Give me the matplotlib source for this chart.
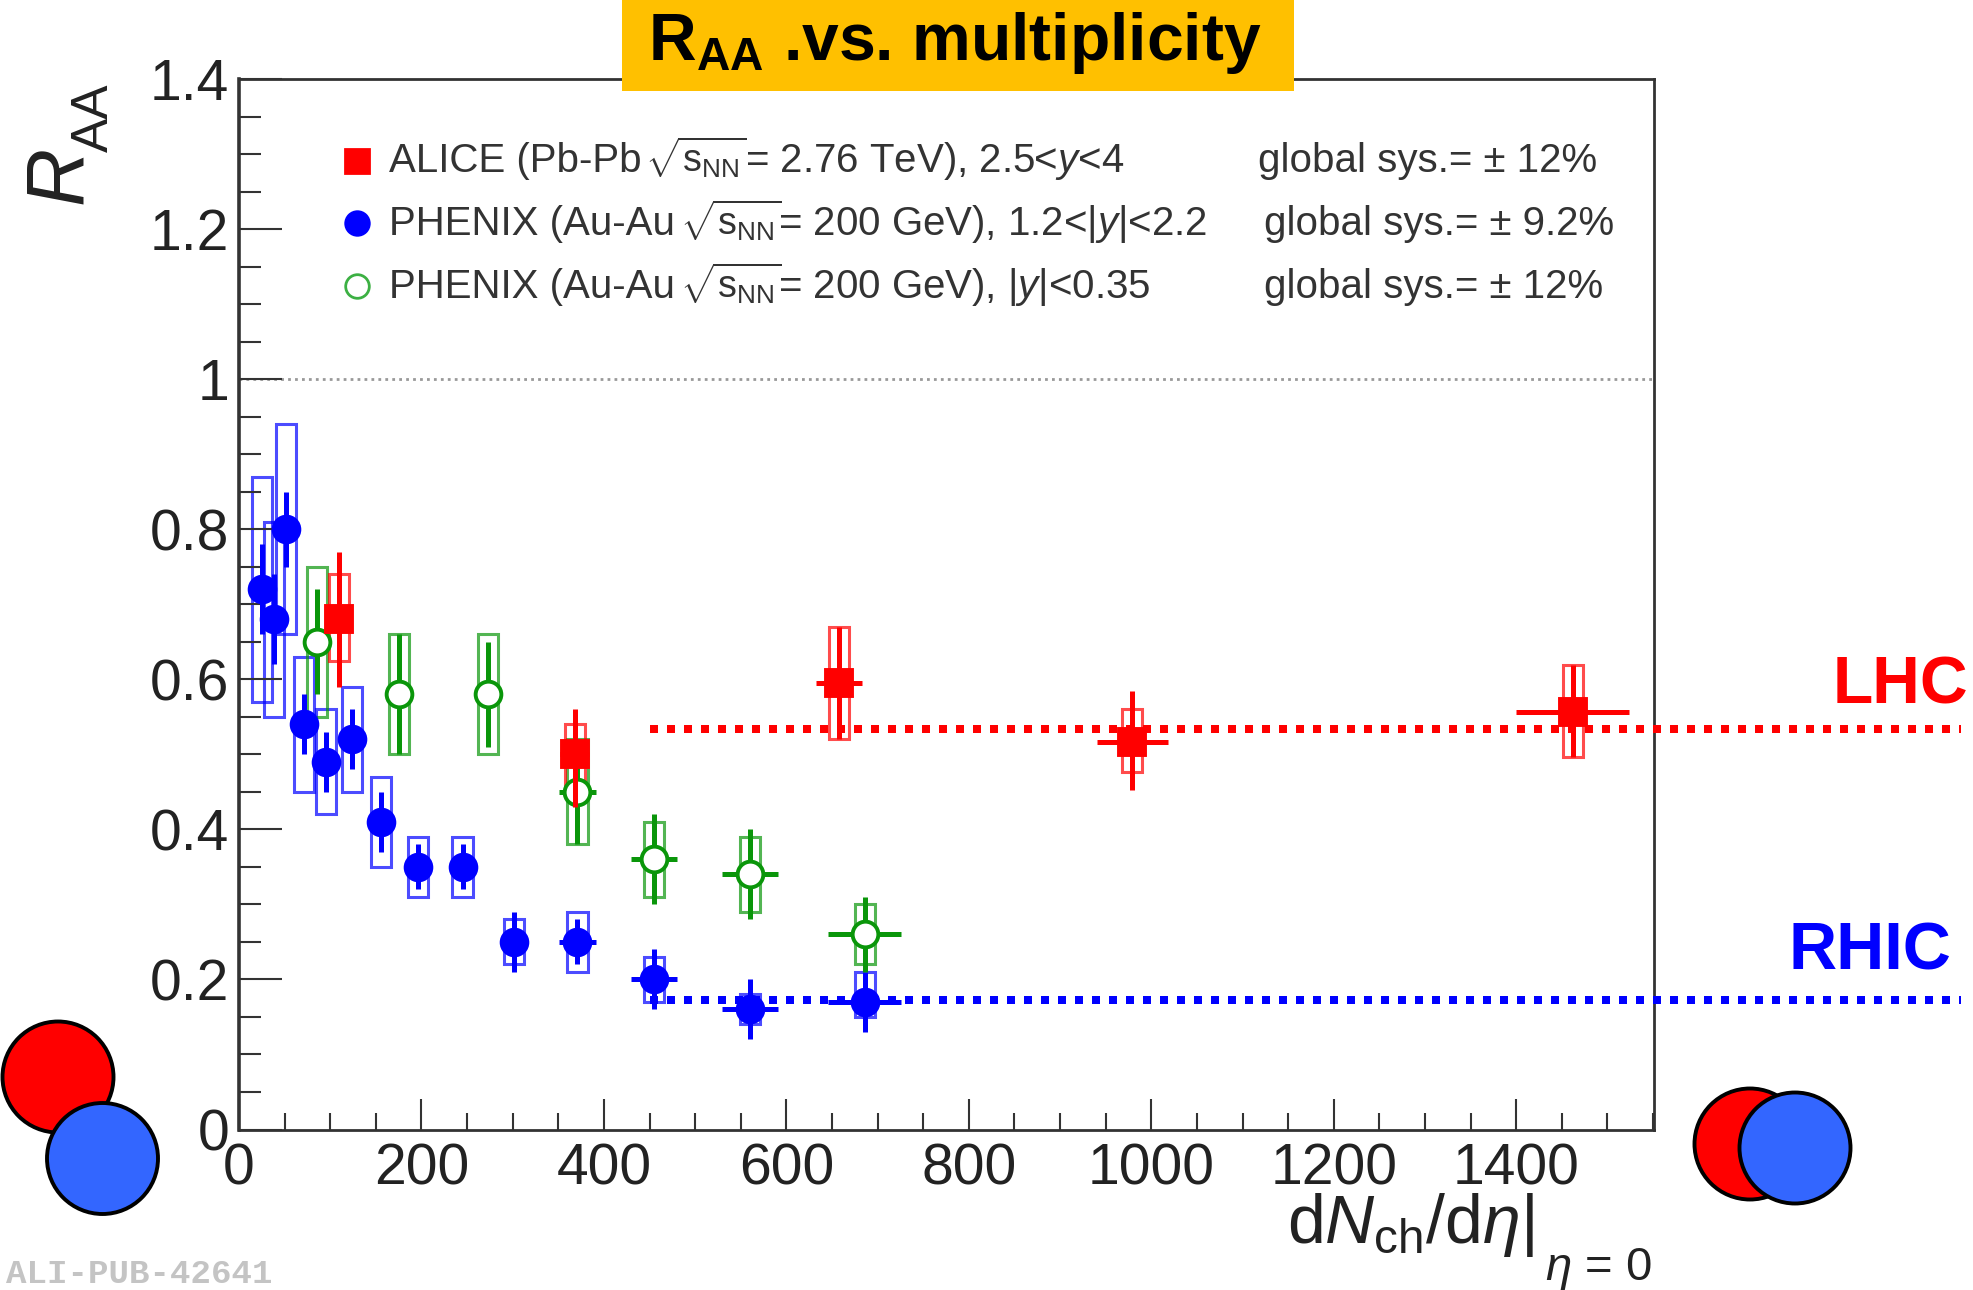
import matplotlib
matplotlib.use('Agg')
import matplotlib.pyplot as plt
from matplotlib.patches import Circle, Rectangle
from matplotlib.ticker import MultipleLocator

plt.rcParams['font.family'] = ['Liberation Sans', 'DejaVu Sans']
plt.rcParams['mathtext.fontset'] = 'custom'
plt.rcParams['mathtext.rm'] = 'Liberation Sans'
plt.rcParams['mathtext.it'] = 'Liberation Sans:italic'
plt.rcParams['mathtext.bf'] = 'Liberation Sans:bold'

# PHENIX forward (blue): x, xerr, y, stat low/high, sys low/high
blue_x = [25, 38, 52, 71, 95, 124, 156, 196, 245, 301, 371, 455, 560, 686]
blue_xerr = [0, 0, 0, 0, 0, 0, 0, 0, 0, 12, 20, 25, 31, 40]
blue_y = [0.72, 0.68, 0.80, 0.54, 0.49, 0.52, 0.41, 0.35, 0.35, 0.25, 0.25, 0.20, 0.16, 0.17]
blue_stat_lo = [0.66, 0.62, 0.75, 0.50, 0.45, 0.48, 0.37, 0.32, 0.32, 0.21, 0.22, 0.16, 0.12, 0.13]
blue_stat_hi = [0.78, 0.74, 0.85, 0.58, 0.53, 0.56, 0.45, 0.38, 0.38, 0.29, 0.28, 0.24, 0.20, 0.21]
blue_sys_lo = [0.57, 0.55, 0.66, 0.45, 0.42, 0.45, 0.35, 0.31, 0.31, 0.22, 0.21, 0.17, 0.14, 0.15]
blue_sys_hi = [0.87, 0.81, 0.94, 0.63, 0.56, 0.59, 0.47, 0.39, 0.39, 0.28, 0.29, 0.23, 0.18, 0.21]

# PHENIX mid rapidity (green)
green_x = [85, 175, 273, 371, 455, 560, 686]
green_xerr = [0, 0, 12, 20, 25, 31, 40]
green_y = [0.65, 0.58, 0.58, 0.45, 0.36, 0.34, 0.26]
green_stat_lo = [0.58, 0.50, 0.51, 0.38, 0.30, 0.28, 0.21]
green_stat_hi = [0.72, 0.66, 0.65, 0.52, 0.42, 0.40, 0.31]
green_sys_lo = [0.55, 0.50, 0.50, 0.38, 0.31, 0.29, 0.22]
green_sys_hi = [0.75, 0.66, 0.66, 0.52, 0.41, 0.39, 0.30]

# ALICE (red)
red_x = [110, 368, 658, 979, 1462]
red_xerr = [0, 16, 25, 39, 62]
red_y = [0.68, 0.50, 0.595, 0.517, 0.557]
red_stat_lo = [0.59, 0.43, 0.52, 0.452, 0.496]
red_stat_hi = [0.77, 0.56, 0.67, 0.585, 0.619]
red_sys_lo = [0.625, 0.45, 0.52, 0.476, 0.496]
red_sys_hi = [0.74, 0.54, 0.67, 0.561, 0.619]

lhc_level = 0.534
rhic_level = 0.173
level_x = [450, 1887]

y_ticks = [0, 0.2, 0.4, 0.6, 0.8, 1, 1.2, 1.4]
y_labels = ['0', '0.2', '0.4', '0.6', '0.8', '1', '1.2', '1.4']
x_ticks = [0, 200, 400, 600, 800, 1000, 1200, 1400]

SQRT = r'$\sqrt{\mathrm{s}_{\mathrm{NN}}}$'
legend_names = ['ALICE (Pb-Pb', 'PHENIX (Au-Au', 'PHENIX (Au-Au']
legend_rest = [r'= 2.76 TeV), 2.5<$y$<4', r'= 200 GeV), 1.2<|$y$|<2.2', r'= 200 GeV), |$y$|<0.35']
global_sys = ['global sys.= ± 12%', 'global sys.= ± 9.2%', 'global sys.= ± 12%']

W, H = 1974, 1290
BLUE = '#0000ff'
RED = '#ff0000'
GREEN = '#0a960a'
DARK = '#333333'
BOX_WIDTH = 22

fig = plt.figure(figsize=(W / 100, H / 100), dpi=100)
ax = fig.add_axes([239 / W, 1 - 1129.5 / H, (1654 - 239) / W, (1129.5 - 79) / H])
ax.set_xlim(0, 1551)
ax.set_ylim(0, 1.4)


def draw_series(x, xerr, y, lo, hi, sys_lo, sys_hi, color, marker, face):
    heights = [b - a for a, b in zip(sys_lo, sys_hi)]
    ax.bar(x, heights, width=BOX_WIDTH, bottom=sys_lo, fill=False, edgecolor=color, linewidth=2.2, alpha=0.7)
    yerr = [[a - b for a, b in zip(y, lo)], [a - b for a, b in zip(hi, y)]]
    ax.errorbar(x, y, xerr=xerr, yerr=yerr, fmt='none', ecolor=color, elinewidth=3.6, capsize=0)
    ax.plot(x, y, linestyle='none', marker=marker, markersize=18.5, markerfacecolor=face,
            markeredgecolor=color, markeredgewidth=2.8)


draw_series(blue_x, blue_xerr, blue_y, blue_stat_lo, blue_stat_hi, blue_sys_lo, blue_sys_hi, BLUE, 'o', BLUE)
draw_series(green_x, green_xerr, green_y, green_stat_lo, green_stat_hi, green_sys_lo, green_sys_hi, GREEN, 'o', 'white')
draw_series(red_x, red_xerr, red_y, red_stat_lo, red_stat_hi, red_sys_lo, red_sys_hi, RED, 's', RED)

ax.axhline(1, color='#999999', linewidth=2, linestyle=(0, (1, 1.5)), zorder=1)
for level, color in [(lhc_level, RED), (rhic_level, BLUE)]:
    ax.plot(level_x, [level, level], color=color, linewidth=5.76, linestyle=(0, (1, 1.125)),
            dash_capstyle='butt', clip_on=False, zorder=6)

ax.set_xticks(x_ticks)
ax.set_yticks(y_ticks)
ax.set_yticklabels(y_labels)
ax.xaxis.set_minor_locator(MultipleLocator(50))
ax.yaxis.set_minor_locator(MultipleLocator(0.05))
ax.tick_params(axis='y', which='major', direction='in', length=31, width=1.5, color=DARK,
               labelsize=41, labelcolor='#222222', pad=7)
ax.tick_params(axis='y', which='minor', direction='in', length=16, width=1.5, color=DARK)
ax.tick_params(axis='x', which='major', direction='in', length=22, width=1.5, color=DARK,
               labelsize=41, labelcolor='#222222', pad=9.5)
ax.tick_params(axis='x', which='minor', direction='in', length=12, width=1.5, color=DARK)
for name, spine in ax.spines.items():
    spine.set_color(DARK)
    spine.set_linewidth(2.6 if name == 'left' else 2)

# overlay in image pixels for the annotations around the plot
over = fig.add_axes([0, 0, 1, 1], zorder=10)
over.set_xlim(0, W)
over.set_ylim(H, 0)
over.axis('off')
over.patch.set_alpha(0)

over.add_patch(Rectangle((622, -2), 672, 93, facecolor='#ffc000', edgecolor='none'))
over.text(955, 60, r'$\mathbf{R_{AA}}$ .vs. multiplicity', fontsize=47.5, fontweight='bold',
          ha='center', va='baseline', color='black')

for xc, yc, color in [(58, 1077, RED), (102.5, 1158.5, '#3366ff'), (1750, 1144, RED), (1795, 1148, '#3366ff')]:
    over.add_patch(Circle((xc, yc), 55.5, facecolor=color, edgecolor='black', linewidth=2.8))

over.text(1968, 703, 'LHC', fontsize=47.5, fontweight='bold', color=RED, ha='right', va='baseline')
over.text(1951, 970, 'RHIC', fontsize=48, fontweight='bold', color=BLUE, ha='right', va='baseline')

# legend rows
row_y = [172, 235, 298]
mark_y = [161, 223, 286]
sqrt_x = [645, 680, 680]
rest_x = [745, 778, 778]
col2_x = [1258, 1264, 1264]
styles = [('s', RED, RED), ('o', BLUE, BLUE), ('o', '#3cb043', 'white')]
for i in range(3):
    over.plot([357], [mark_y[i]], linestyle='none', marker=styles[i][0], markersize=17,
              markeredgecolor=styles[i][1], markerfacecolor=styles[i][2], markeredgewidth=2)
    over.text(389, row_y[i], legend_names[i], fontsize=29, color=DARK, ha='left', va='baseline')
    over.text(sqrt_x[i], row_y[i], SQRT, fontsize=27, color=DARK, ha='left', va='baseline')
    over.text(rest_x[i], row_y[i], legend_rest[i], fontsize=29, color=DARK, ha='left', va='baseline')
    over.text(col2_x[i], row_y[i], global_sys[i], fontsize=29, color=DARK, ha='left', va='baseline')

# axis titles
over.text(83, 207, r'$\mathit{R}$', fontsize=58, color='#222222', rotation=90, rotation_mode='anchor',
          ha='left', va='baseline')
over.text(108, 152, 'AA', fontsize=37, color='#222222', rotation=90, rotation_mode='anchor',
          ha='left', va='baseline')
over.text(1534, 1243, r'd$\mathit{N}_{\mathrm{ch}}$/d$\mathit{\eta}$|', fontsize=49, color='#222222',
          ha='right', va='baseline')
over.text(1652, 1280, r'$\mathit{\eta}$ = 0', fontsize=34, color='#222222', ha='right', va='baseline')

over.text(272, 1283, 'ALI-PUB-42641', fontsize=24.6, family='Liberation Mono', fontweight='bold',
          color='#c4c4c4', ha='right', va='baseline')

fig.savefig('out.png', dpi=100)
